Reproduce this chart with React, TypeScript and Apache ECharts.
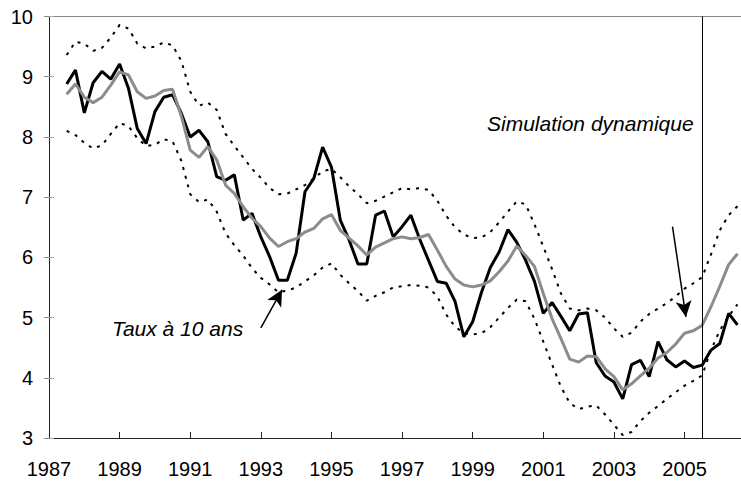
import React, { useEffect, useRef } from "react";
import * as echarts from "echarts";

// Quarterly observations, first point 1987 Q3
const startYear = 1987.5;

// Taux à 10 ans (black)
const taux = [
  8.88, 9.11, 8.40, 8.90, 9.09, 8.96, 9.21, 8.81, 8.14, 7.89, 8.42, 8.66, 8.70, 8.39, 8.00, 8.11,
  7.92, 7.34, 7.28, 7.37, 6.62, 6.73, 6.34, 6.01, 5.62, 5.62, 6.07, 7.09, 7.31, 7.83, 7.50, 6.62,
  6.29, 5.89, 5.89, 6.70, 6.77, 6.34, 6.51, 6.70, 6.30, 5.95, 5.60, 5.57, 5.27, 4.68, 4.93, 5.42,
  5.83, 6.09, 6.46, 6.25, 5.95, 5.60, 5.07, 5.25, 5.02, 4.78, 5.06, 5.08, 4.25, 4.03, 3.93, 3.65,
  4.22, 4.29, 4.02, 4.60, 4.30, 4.18, 4.28, 4.17, 4.21, 4.46, 4.57, 5.07, 4.88,
];

// Simulated rate (grey)
const simul = [
  8.71, 8.88, 8.66, 8.57, 8.66, 8.86, 9.08, 9.03, 8.75, 8.64, 8.68, 8.77, 8.79, 8.34, 7.78, 7.66,
  7.84, 7.62, 7.20, 7.06, 6.84, 6.65, 6.51, 6.32, 6.18, 6.26, 6.31, 6.42, 6.48, 6.64, 6.71, 6.45,
  6.32, 6.19, 6.04, 6.17, 6.24, 6.31, 6.34, 6.31, 6.33, 6.38, 6.12, 5.85, 5.64, 5.54, 5.51, 5.54,
  5.61, 5.76, 5.94, 6.19, 6.03, 5.85, 5.40, 4.98, 4.65, 4.31, 4.26, 4.36, 4.35, 4.15, 4.02, 3.80,
  3.90, 4.03, 4.16, 4.33, 4.42, 4.56, 4.74, 4.78, 4.87, 5.18, 5.52, 5.88, 6.06,
];

// Upper band (dotted)
const upper = [
  9.36, 9.58, 9.55, 9.43, 9.48, 9.65, 9.86, 9.80, 9.55, 9.47, 9.50, 9.57, 9.52, 9.26, 8.75, 8.52,
  8.57, 8.45, 8.05, 7.85, 7.66, 7.47, 7.32, 7.15, 7.05, 7.06, 7.13, 7.20, 7.31, 7.43, 7.47, 7.33,
  7.18, 7.05, 6.90, 6.94, 7.01, 7.08, 7.15, 7.13, 7.15, 7.12, 6.94, 6.69, 6.50, 6.38, 6.32, 6.33,
  6.42, 6.58, 6.76, 6.93, 6.88, 6.55, 6.18, 5.80, 5.40, 5.15, 5.12, 5.15, 5.12, 5.00, 4.82, 4.68,
  4.75, 4.93, 5.06, 5.15, 5.24, 5.35, 5.48, 5.57, 5.67, 6.05, 6.45, 6.70, 6.85,
];

// Lower band (dotted)
const lower = [
  8.10, 8.03, 7.90, 7.81, 7.86, 8.05, 8.23, 8.18, 7.98, 7.85, 7.87, 7.96, 7.93, 7.60, 7.05, 6.92,
  6.96, 6.76, 6.40, 6.20, 6.03, 5.82, 5.66, 5.55, 5.42, 5.45, 5.50, 5.60, 5.70, 5.83, 5.90, 5.71,
  5.57, 5.44, 5.28, 5.36, 5.42, 5.50, 5.52, 5.54, 5.53, 5.50, 5.35, 5.05, 4.85, 4.74, 4.72, 4.74,
  4.84, 5.00, 5.16, 5.30, 5.27, 4.98, 4.60, 4.22, 3.85, 3.58, 3.48, 3.52, 3.54, 3.39, 3.22, 3.05,
  3.10, 3.28, 3.42, 3.53, 3.65, 3.76, 3.87, 3.95, 4.04, 4.46, 4.79, 5.02, 5.22,
];

const yearTicks = [1987, 1989, 1991, 1993, 1995, 1997, 1999, 2001, 2003, 2005];
const simulationStart = 2005.5;

const FONT = '"Liberation Sans", Arial, sans-serif';

export default function App() {
  const ref = useRef<HTMLDivElement>(null);

  useEffect(() => {
    if (!ref.current) return;
    const chart = echarts.init(ref.current, undefined, { renderer: "svg" });
    const dates = taux.map((_, i) => startYear + i / 4);
    const pairs = (arr: number[]) => arr.map((v, i) => [dates[i], v]);

    const dotted = {
      type: "line",
      symbol: "none",
      silent: true,
      lineStyle: { color: "#000", width: 2, type: [3, 6] },
      z: 2,
    };

    chart.setOption({
      animation: false,
      grid: { left: 49, right: 0, top: 16.5, bottom: 47, containLabel: false },
      xAxis: [
        {
          type: "value",
          min: 1987,
          max: 2006.6,
          interval: 2,
          axisLine: { show: true, lineStyle: { color: "#222", width: 1 } },
          axisTick: {
            show: true,
            inside: true,
            length: 6,
            customValues: yearTicks,
            lineStyle: { color: "#222" },
          },
          axisLabel: {
            show: true,
            customValues: yearTicks,
            formatter: (v: number) => String(v),
            margin: 21,
            color: "#000",
            fontSize: 20,
            fontFamily: FONT,
          },
          splitLine: { show: false },
        },
        {
          type: "value",
          position: "top",
          min: 1987,
          max: 2006.6,
          axisLine: { show: true, lineStyle: { color: "#888", width: 1 } },
          axisTick: { show: false },
          axisLabel: { show: false },
          splitLine: { show: false },
        },
      ],
      yAxis: [
        {
          type: "value",
          min: 3,
          max: 10,
          interval: 1,
          axisLine: { show: true, lineStyle: { color: "#222", width: 1 } },
          axisTick: { show: true, inside: false, length: 5, lineStyle: { color: "#888" } },
          axisLabel: { margin: 16, color: "#000", fontSize: 20, fontFamily: FONT },
          splitLine: { show: false },
        },
        {
          type: "value",
          position: "left",
          min: 3,
          max: 10,
          interval: 1,
          axisLine: { show: false },
          axisTick: { show: true, inside: true, length: 5, lineStyle: { color: "#aaa" } },
          axisLabel: { show: false },
          splitLine: { show: false },
        },
      ],
      series: [
        { ...dotted, name: "Borne haute", data: pairs(upper) },
        { ...dotted, name: "Borne basse", data: pairs(lower) },
        {
          type: "line",
          name: "Taux à 10 ans",
          symbol: "none",
          data: pairs(taux),
          lineStyle: { color: "#000", width: 3 },
          z: 3,
          markLine: {
            silent: true,
            symbol: ["none", "none"],
            label: { show: false },
            lineStyle: { color: "#000", width: 1, type: "solid" },
            emphasis: { disabled: true },
            data: [{ xAxis: simulationStart }],
          },
        },
        {
          type: "line",
          name: "Simulation",
          symbol: "none",
          data: pairs(simul),
          lineStyle: { color: "#8c8c8c", width: 3 },
          z: 4,
          markLine: {
            silent: true,
            symbol: ["none", "arrow"],
            symbolSize: [12, 16],
            label: { show: false },
            lineStyle: { color: "#000", width: 1.5, type: "solid" },
            itemStyle: { color: "#000" },
            emphasis: { disabled: true },
            data: [
              [{ coord: [1993.0, 4.83] }, { coord: [1993.6, 5.46] }],
              [{ coord: [2004.66, 6.51] }, { coord: [2005.04, 5.01] }],
            ],
          },
        },
      ],
      graphic: [
        {
          type: "text",
          left: 487,
          top: 113,
          silent: true,
          style: {
            text: "Simulation dynamique",
            font: `italic 21px ${FONT}`,
            fill: "#000",
          },
        },
        {
          type: "text",
          left: 112,
          top: 318,
          silent: true,
          style: {
            text: "Taux à 10 ans",
            font: `italic 21px ${FONT}`,
            fill: "#000",
          },
        },
      ],
    });

    return () => chart.dispose();
  }, []);

  return <div ref={ref} style={{ width: 741, height: 485, position: "absolute", left: 0, top: 0 }} />;
}
